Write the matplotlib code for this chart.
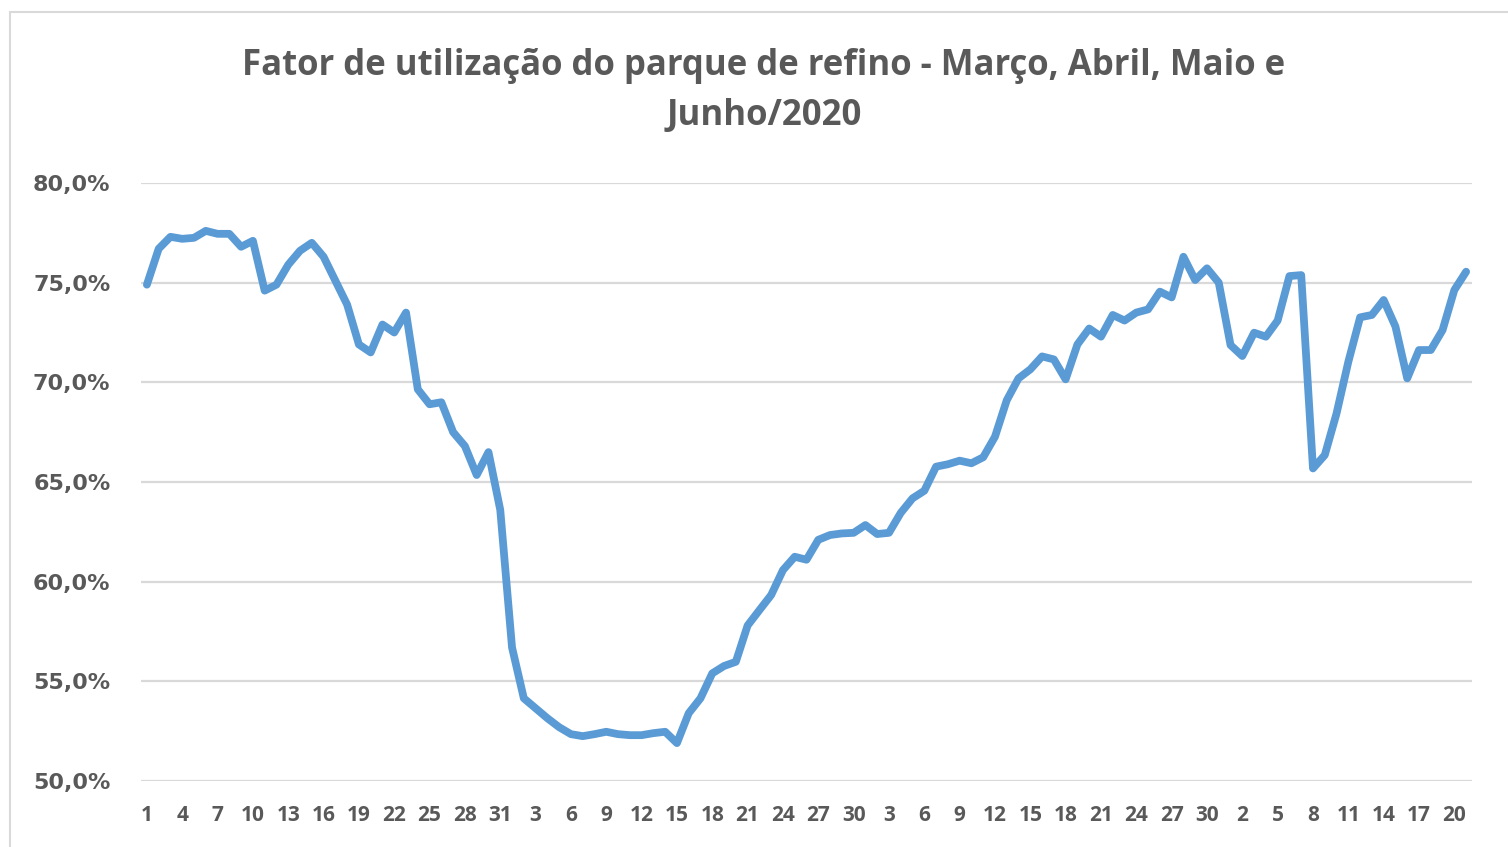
import matplotlib.pyplot as plt
from matplotlib.patches import Rectangle
from matplotlib.ticker import FuncFormatter

# dias de março (31), abril (30), maio (31) e junho (até 21)
dias = list(range(1, 32)) + list(range(1, 31)) + list(range(1, 32)) + list(range(1, 22))

fator = [
    74.9, 76.7, 77.3, 77.2, 77.25, 77.6, 77.45, 77.45, 76.8, 77.1,
    74.6, 74.9, 75.9, 76.6, 77.0, 76.3, 75.1, 73.9, 71.9, 71.5,
    72.9, 72.5, 73.5, 69.65, 68.9, 69.0, 67.5, 66.8, 65.35, 66.5,
    63.6, 56.7, 54.15, 53.65, 53.15, 52.7, 52.35, 52.25, 52.35, 52.47,
    52.35, 52.3, 52.3, 52.4, 52.47, 51.9, 53.4, 54.15, 55.4, 55.77,
    55.98, 57.8, 58.57, 59.33, 60.58, 61.25, 61.1, 62.1, 62.34, 62.42,
    62.45, 62.84, 62.39, 62.45, 63.45, 64.18, 64.56, 65.77, 65.89, 66.07,
    65.94, 66.24, 67.27, 69.1, 70.2, 70.65, 71.3, 71.15, 70.15, 71.9,
    72.7, 72.29, 73.38, 73.1, 73.5, 73.66, 74.55, 74.26, 76.3, 75.13,
    75.72, 75.0, 71.87, 71.32, 72.49, 72.29, 73.1, 75.33, 75.38, 65.68,
    66.35, 68.44, 71.03, 73.26, 73.38, 74.13, 72.8, 70.2, 71.62, 71.62,
    72.62, 74.63, 75.55,
]

titulo = "Fator de utilização do parque de refino - Março, Abril, Maio e\nJunho/2020"
y_ticks = [50, 55, 60, 65, 70, 75, 80]

cinza = "#595959"
fonte = ["Open Sans", "DejaVu Sans"]

fig = plt.figure(figsize=(15.08, 8.47), dpi=100)
ax = fig.add_axes([141 / 1508, 1 - 781 / 847, (1472 - 141) / 1508, (781 - 183) / 847])

x = list(range(len(fator)))
ax.plot(x, fator, color="#5B9BD5", linewidth=5.6, solid_joinstyle="round", solid_capstyle="round", zorder=3)

ax.set_xlim(-0.5, len(fator) - 0.5)
ax.set_ylim(50, 80)
ax.set_yticks(y_ticks)
ax.yaxis.set_major_formatter(FuncFormatter(lambda v, p: f"{v:.1f}%".replace(".", ",")))
ax.set_xticks(x[::3])
ax.set_xticklabels([str(dias[i]) for i in x[::3]])

ax.grid(axis="y", color="#D9D9D9", linewidth=1.6)
ax.set_axisbelow(True)
for s in ax.spines.values():
    s.set_visible(False)
ax.tick_params(axis="both", length=0)
ax.tick_params(axis="y", pad=22, labelsize=16, labelcolor=cinza)
ax.tick_params(axis="x", pad=17, labelsize=15, labelcolor=cinza)
for t in ax.get_yticklabels():
    t.set_fontweight("bold")
    t.set_family("DejaVu Sans")
for t in ax.get_xticklabels():
    t.set_fontweight("bold")
    t.set_family(fonte)

fig.text(764 / 1508, 1 - 91 / 847, titulo, ha="center", va="center", fontsize=25,
         fontweight="bold", color=cinza, family=fonte, linespacing=1.5)

# moldura do gráfico
fig.patches.append(Rectangle((10 / 1508, -0.1), 2, 1 - 12 / 847 + 0.1, transform=fig.transFigure,
                             fill=False, edgecolor="#D9D9D9", linewidth=1.5))

fig.savefig("out.png", dpi=100)
